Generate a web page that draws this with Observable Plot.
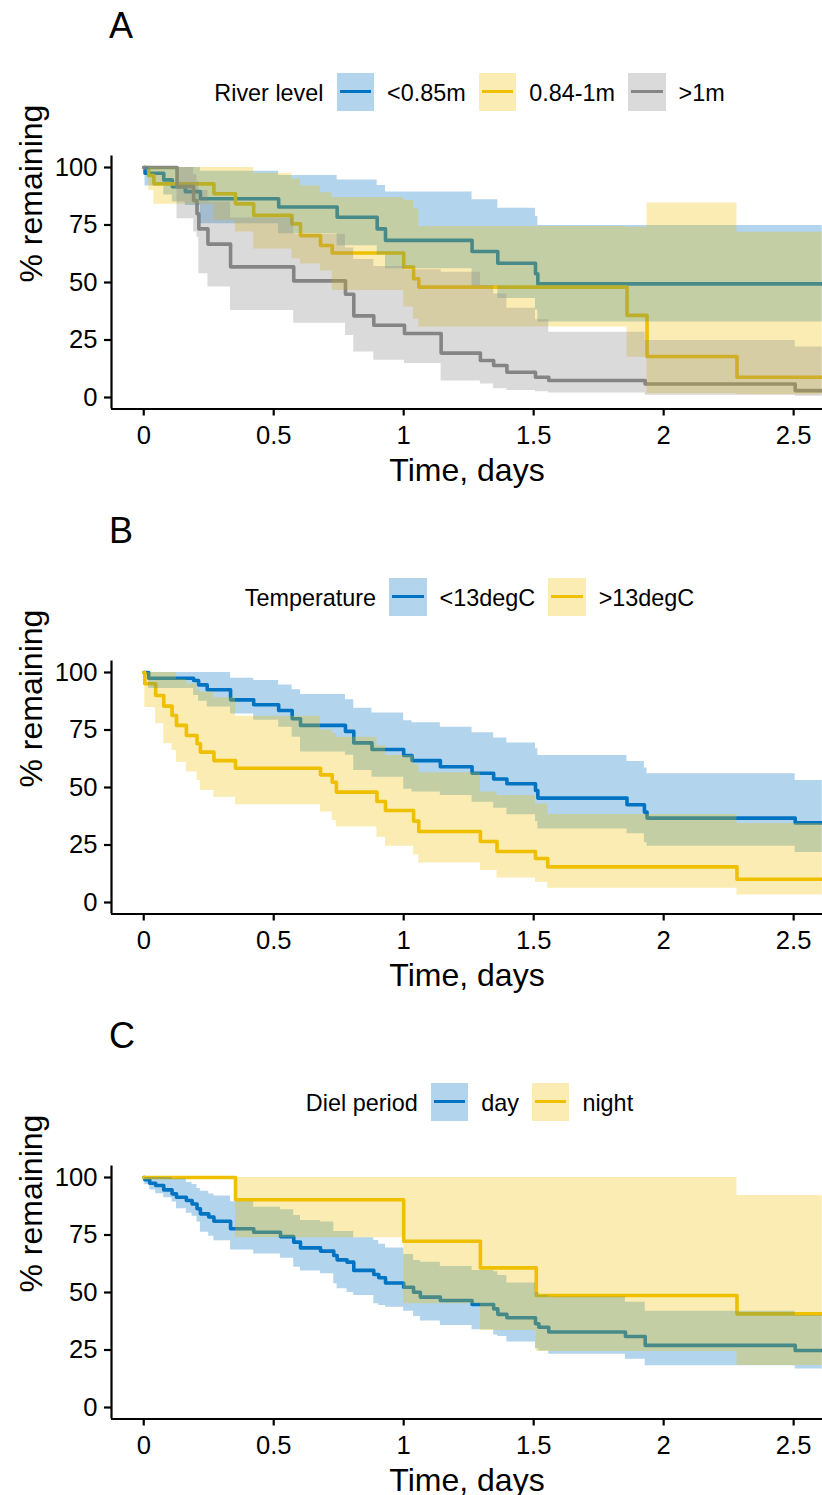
<!DOCTYPE html>
<html><head><meta charset="utf-8">
<script src="https://cdn.jsdelivr.net/npm/d3@7"></script>
<script src="https://cdn.jsdelivr.net/npm/@observablehq/plot@0.6"></script>
<style>
body{margin:0;background:#fff;}
#root{position:relative;width:822px;height:1495px;overflow:hidden;background:#fff;font-family:"Liberation Sans",Arial,sans-serif;color:#000;}
.panel{position:absolute;left:0;width:822px;height:505px;}
.letter{position:absolute;left:109px;top:7.5px;font-size:36px;line-height:36px;}
.legend{position:absolute;top:73px;left:117px;right:0;height:37.5px;display:flex;justify-content:center;align-items:center;font-size:23.4px;line-height:23.4px;}
.legend span{position:relative;top:2px;white-space:nowrap;}
.key{position:relative;width:37.5px;height:37.5px;flex:none;}
.key i{position:absolute;left:3px;right:3px;top:17px;height:3.4px;}
.panel svg{position:absolute;left:0;top:120px;}
</style></head><body><div id="root"></div><script>
// ---- labels & scales ----
const panelLetters = ["A", "B", "C"];
const legendTitles = ["River level", "Temperature", "Diel period"];
const riverLevels = ["<0.85m", "0.84-1m", ">1m"];
const temperatures = ["<13degC", ">13degC"];
const dielPeriods = ["day", "night"];
const palette = ["#0073C2", "#EFC000", "#868686"];
const xTicks = [0, 0.5, 1, 1.5, 2, 2.5];
const yTicks = [0, 25, 50, 75, 100];
const xLimits = [-0.124, 2.611];
const yLimits = [-5, 105];
const xTitle = "Time, days";
const yTitle = "% remaining";

// ---- Panel A: river level ----
const aLowT  = [0, .005, .077, .11, .16, .218, .519, .744, .898, .93, 1.263, 1.362, 1.507, 1.516, 2.61];
const aLowS  = [100, 97.5, 94.6, 91.7, 89.5, 86.4, 82.8, 78.4, 73.3, 68.3, 63.5, 58.4, 53.8, 49.4, 49.4];
const aLowHi = [100, 100, 100, 100, 100, 98.4, 96.5, 94.6, 92.2, 89.3, 86, 82.3, 78.7, 74.8, 74.8];
const aLowLo = [100, 92, 88, 85, 83.5, 75.5, 71.2, 66, 62, 56, 48.5, 43, 38, 32.8, 32.8];

const aMidT  = [0, .019, .039, .27, .353, .423, .57, .603, .68, .725, 1.0, 1.038, 1.058, 1.859, 1.936, 2.282, 2.61];
const aMidS  = [100, 96.5, 92.9, 88.6, 84.2, 79.2, 75.5, 70.4, 66.1, 62.8, 56.7, 51.6, 48.0, 35.7, 17.8, 8.8, 8.8];
const aMidHi = [100, 100, 100, 100, 100, 97.5, 95, 92, 89, 87, 85.7, 82, 74.3, 74, 84.6, 71.9, 71.9];
const aMidLo = [100, 90, 84, 77, 72, 64.6, 60.3, 58, 55, 46.5, 39.3, 34, 30.6, 17.5, 1.6, 1.2, 1.2];

const aHighT  = [0, .128, .192, .205, .212, .247, .334, .577, .776, .808, .885, 1.003, 1.144, 1.295, 1.346, 1.397, 1.507, 1.558, 1.929, 2.506, 2.61];
const aHighS  = [100, 91.7, 85.6, 79.9, 73.3, 66.7, 56.8, 50.7, 44.9, 35.5, 31.4, 27.8, 19.3, 16.1, 13.9, 11.0, 8.8, 7.4, 5.9, 3.0, 3.0];
const aHighHi = [100, 100, 97, 94, 90, 85, 78, 71, 65, 60, 57, 55.5, 54.5, 48.7, 45, 38.8, 33.8, 28.4, 24.8, 22, 22];
const aHighLo = [100, 77.7, 72, 69.7, 53.8, 48, 37.8, 32.3, 27, 19.8, 16.2, 14.8, 7.2, 5.9, 3.8, 3, 2.5, 2, 1, 0.5, 0.5];

// ---- Panel B: temperature ----
const bColdT  = [0, .019, .192, .211, .244, .334, .423, .519, .571, .603, .776, .808, .878, 1.0, 1.032, 1.141, 1.263, 1.346, 1.397, 1.507, 1.516, 1.859, 1.926, 1.936, 2.506, 2.61];
const bColdS  = [100, 97.5, 96.5, 94.6, 92.5, 88.1, 86, 83.5, 79.9, 77, 74.4, 69.4, 66.5, 63.9, 61.7, 59, 56.2, 53.7, 51.6, 48.7, 45.4, 42.5, 39.3, 36.7, 34.6, 34.6];
const bColdHi = [100, 100, 100, 100, 100, 97.5, 96.5, 94.6, 92.5, 90.4, 88.1, 84.5, 82.4, 79, 78.1, 76.2, 73.8, 71.5, 69.4, 66.8, 63.9, 61.3, 58.5, 56, 53, 53];
const bColdLo = [100, 93, 90, 87.5, 85, 82, 79.2, 76.2, 71.9, 65.4, 64, 57.4, 54.5, 49.2, 48, 46.5, 43.6, 41, 38.1, 35.2, 32, 29.9, 26, 24.5, 21.7, 21.7];

const bWarmT  = [0, .004, .046, .077, .109, .126, .164, .205, .218, .27, .353, .68, .725, .741, .897, .93, 1.038, 1.058, 1.295, 1.359, 1.507, 1.554, 2.282, 2.61];
const bWarmS  = [100, 95.1, 90, 85.4, 81.3, 77, 72.6, 69, 65.4, 61.7, 58.4, 55.5, 52.3, 48, 43.9, 40, 35.4, 30.9, 26.5, 22.2, 19.1, 15.5, 10.1, 10.1];
const bWarmHi = [100, 100, 100, 100, 100, 97, 95, 92.5, 91.5, 89, 81, 75, 73.5, 71.9, 68.1, 63.9, 60, 56.4, 48, 46.5, 42.8, 38.3, 34.4, 34.4];
const bWarmLo = [100, 84.8, 77.7, 69, 66.1, 61, 56.7, 53, 48.7, 45.8, 42.5, 39.3, 35.7, 32.8, 28.4, 24.5, 20.7, 17.2, 13.9, 10.6, 8.8, 6.2, 3.3, 3.3];

// ---- Panel C: diel period ----
const cDayT  = [0, .004, .023, .046, .077, .109, .126, .164, .186, .205, .218, .25, .27, .334, .423, .526, .577, .603, .68, .731, .744, .782, .808, .885, .904, .93, 1.0, 1.038, 1.064, 1.141, 1.263, 1.346, 1.362, 1.397, 1.507, 1.52, 1.558, 1.853, 1.929, 2.506, 2.61];
const cDayS  = [100, 99, 97.5, 96.5, 94.6, 92.9, 91.4, 90, 88.5, 86.4, 84.2, 82.8, 81, 77.7, 76.2, 74.3, 71.9, 69.4, 68, 66.1, 64.2, 63.2, 59.6, 57.8, 56.4, 54.1, 52.3, 50.1, 48, 46.5, 44.8, 42.9, 40.5, 39, 36.4, 34.9, 32.8, 30.9, 27, 24.8, 24.8];
const cDayHi = [100, 100, 100, 100, 100, 99.3, 99.3, 97.8, 97, 95.2, 94, 92.8, 92, 89.5, 87.1, 86, 83.5, 81.3, 80.6, 76.5, 76.5, 76.5, 73.8, 72.6, 71, 69.4, 66.5, 63.9, 63.2, 61.3, 59.6, 59, 57.4, 54.1, 50, 48.7, 48, 45.8, 41.9, 40, 40];
const cDayLo = [100, 97, 94.6, 92.9, 91.2, 89.3, 86.4, 84.5, 83.1, 80.6, 76.2, 74.5, 72.5, 68.5, 66.7, 64.9, 61, 59.3, 58.2, 53.8, 51.6, 50, 48.7, 45.1, 44.3, 43.6, 41.9, 39.6, 37.6, 35.7, 33.8, 31.5, 30.9, 28.5, 25.5, 24.6, 23.2, 21, 18.1, 16.7, 16.7];

const cNightT  = [0, .353, 1.0, 1.295, 1.51, 2.282, 2.61];
const cNightS  = [100, 90.3, 72.3, 60.7, 48.7, 40.7, 40.7];
const cNightHi = [100, 100, 100, 100, 100, 92.2, 92.2];
const cNightLo = [100, 73.8, 45.1, 33.5, 24.3, 18.3, 18.3];

// ---- build ----
function series(t, s, lo, hi) {
  return t.map((ti, i) => ({t: ti, s: s[i], lo: lo[i], hi: hi[i]}));
}
const panelSeries = [
  [series(aLowT, aLowS, aLowLo, aLowHi), series(aMidT, aMidS, aMidLo, aMidHi), series(aHighT, aHighS, aHighLo, aHighHi)],
  [series(bColdT, bColdS, bColdLo, bColdHi), series(bWarmT, bWarmS, bWarmLo, bWarmHi)],
  [series(cDayT, cDayS, cDayLo, cDayHi), series(cNightT, cNightS, cNightLo, cNightHi)]
];
const panelLabels = [riverLevels, temperatures, dielPeriods];

const root = document.getElementById("root");

panelLetters.forEach((letter, p) => {
  const panel = document.createElement("div");
  panel.className = "panel";
  panel.style.top = (p * 505) + "px";
  root.appendChild(panel);

  const L = document.createElement("div");
  L.className = "letter";
  L.textContent = letter;
  panel.appendChild(L);

  const leg = document.createElement("div");
  leg.className = "legend";
  const tt = document.createElement("span");
  tt.textContent = legendTitles[p];
  tt.style.marginRight = "13px";
  leg.appendChild(tt);
  panelLabels[p].forEach((lab, i) => {
    const key = document.createElement("div");
    key.className = "key";
    const c = d3.color(palette[i]);
    const light = c.copy({opacity: 0.3});
    key.style.background = light.formatRgb();
    const line = document.createElement("i");
    line.style.background = palette[i];
    key.appendChild(line);
    leg.appendChild(key);
    const sp = document.createElement("span");
    sp.textContent = lab;
    sp.style.marginLeft = "13px";
    sp.style.marginRight = i < panelLabels[p].length - 1 ? "13px" : "0px";
    leg.appendChild(sp);
  });
  panel.appendChild(leg);

  const groups = panelSeries[p];
  const marks = [];
  groups.forEach((g, i) => {
    marks.push(Plot.line(g, {x: "t", y: "s", curve: "step-after", stroke: palette[i], strokeWidth: 3.6, clip: true}));
  });
  groups.forEach((g, i) => {
    marks.push(Plot.areaY(g, {x: "t", y1: "lo", y2: "hi", curve: "step-after", fill: palette[i], fillOpacity: 0.3, clip: true}));
  });
  marks.push(
    Plot.axisX({anchor: "bottom", ticks: xTicks, tickFormat: d => String(d), tickSize: 7, tickPadding: 9.5, strokeWidth: 2.2, fontSize: 25.6, label: null}),
    Plot.axisY({anchor: "left", ticks: yTicks, tickFormat: d => String(d), tickSize: 7, tickPadding: 7, strokeWidth: 2.2, fontSize: 25.6, label: null}),
    Plot.ruleX([xLimits[0]], {stroke: "black", strokeWidth: 2.2}),
    Plot.ruleY([yLimits[0]], {stroke: "black", strokeWidth: 2.2}),
    Plot.text([xTitle], {text: d => d, frameAnchor: "bottom", dy: 71.5, fontSize: 32, lineAnchor: "bottom", fill: "black"}),
    Plot.text([yTitle], {text: d => d, frameAnchor: "left", dx: -70, rotate: -90, fontSize: 32, lineAnchor: "bottom", fill: "black"})
  );

  const svg = Plot.plot({
    width: 822,
    height: 385,
    marginLeft: 111,
    marginRight: 0,
    marginTop: 35.5,
    marginBottom: 96.5,
    x: {domain: xLimits},
    y: {domain: yLimits},
    style: {fontFamily: '"Liberation Sans", Arial, sans-serif', fontSize: "25.6px", color: "black", background: "white", overflow: "visible"},
    marks
  });
  panel.appendChild(svg);
});
</script></body></html>
